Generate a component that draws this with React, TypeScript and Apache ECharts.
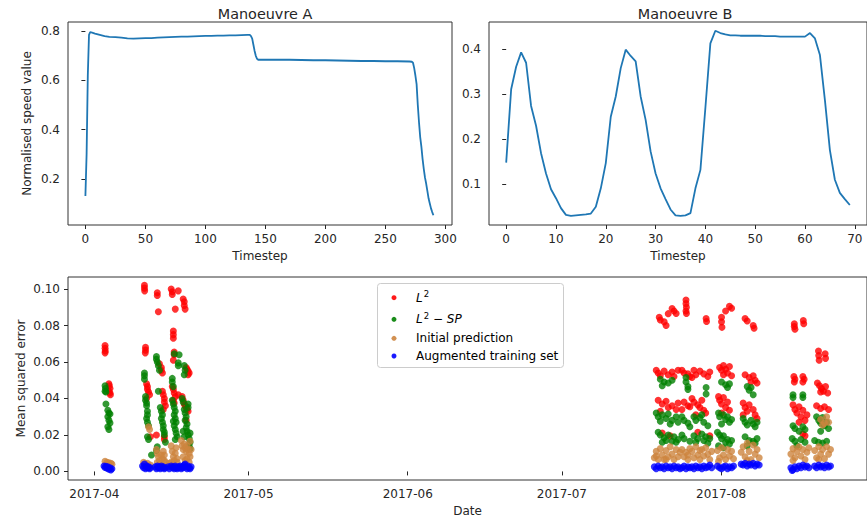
import React, { useEffect, useRef } from "react";
import * as echarts from "echarts";

// ---------- Top-left: Manoeuvre A ----------
const mA_steps = [0, 1, 2, 3, 4, 5, 8, 12, 16, 20, 25, 30, 35, 40, 45, 50, 55, 60, 65, 70, 75, 80, 85, 90, 95, 100, 105, 110, 115, 120, 125, 130, 135, 137, 138, 139, 140, 141, 142, 143, 144, 150, 160, 170, 180, 190, 200, 210, 220, 230, 240, 250, 260, 270, 272, 273, 274, 275, 276, 277, 278, 279, 280, 281, 282, 283, 284, 285, 286, 287, 288, 289, 290];
const mA_values = [0.13, 0.3, 0.62, 0.785, 0.797, 0.795, 0.79, 0.785, 0.78, 0.777, 0.776, 0.774, 0.771, 0.77, 0.771, 0.772, 0.772, 0.774, 0.775, 0.776, 0.777, 0.778, 0.778, 0.779, 0.78, 0.781, 0.781, 0.782, 0.782, 0.783, 0.783, 0.784, 0.785, 0.785, 0.78, 0.77, 0.745, 0.72, 0.7, 0.688, 0.684, 0.684, 0.684, 0.684, 0.683, 0.682, 0.682, 0.681, 0.68, 0.679, 0.679, 0.678, 0.678, 0.677, 0.676, 0.672, 0.65, 0.62, 0.585, 0.5, 0.43, 0.37, 0.33, 0.28, 0.24, 0.205, 0.18, 0.15, 0.12, 0.1, 0.08, 0.065, 0.052];
const mA_xTicks = [0, 50, 100, 150, 200, 250, 300];
const mA_yTicks = [0.2, 0.4, 0.6, 0.8];

// ---------- Top-right: Manoeuvre B ----------
const mB_values = [0.148, 0.311, 0.361, 0.393, 0.37, 0.274, 0.23, 0.169, 0.124, 0.089, 0.069, 0.047, 0.032, 0.03, 0.031, 0.032, 0.033, 0.035, 0.05, 0.091, 0.147, 0.25, 0.295, 0.358, 0.399, 0.385, 0.373, 0.295, 0.243, 0.173, 0.124, 0.091, 0.067, 0.044, 0.031, 0.03, 0.031, 0.036, 0.091, 0.132, 0.27, 0.413, 0.441, 0.436, 0.433, 0.431, 0.431, 0.43, 0.43, 0.43, 0.43, 0.43, 0.429, 0.429, 0.429, 0.428, 0.428, 0.428, 0.428, 0.428, 0.428, 0.436, 0.424, 0.387, 0.287, 0.176, 0.11, 0.081, 0.067, 0.054];
const mB_xTicks = [0, 10, 20, 30, 40, 50, 60, 70];
const mB_yTicks = [0.1, 0.2, 0.3, 0.4];

// ---------- Bottom: errors by date ("MM-DD HH" in 2017) ----------
const l2Points: [string, number][] = [
  ["04-03 02", 0.069], ["04-03 02", 0.0675], ["04-03 03", 0.066], ["04-03 02", 0.065],
  ["04-03 20", 0.048], ["04-03 22", 0.047], ["04-04 01", 0.0455], ["04-03 20", 0.044], ["04-04 01", 0.043], ["04-04 03", 0.042],
  ["04-10 18", 0.102], ["04-10 18", 0.1005], ["04-10 19", 0.099], ["04-10 23", 0.068], ["04-10 23", 0.0665], ["04-10 22", 0.065], ["04-11 04", 0.048], ["04-11 08", 0.0465], ["04-11 08", 0.045], ["04-11 13", 0.0435], ["04-11 18", 0.042], ["04-11 04", 0.04], ["04-11 22", 0.019],
  ["04-13 06", 0.098], ["04-13 06", 0.0965], ["04-13 11", 0.0875], ["04-13 16", 0.059], ["04-14 01", 0.057], ["04-14 01", 0.0555], ["04-14 06", 0.054], ["04-14 06", 0.044], ["04-14 10", 0.042], ["04-14 15", 0.04], ["04-14 15", 0.038], ["04-14 20", 0.036], ["04-14 10", 0.034], ["04-13 02", 0.02], ["04-14 15", 0.019], ["04-14 15", 0.0175],
  ["04-15 23", 0.1], ["04-16 04", 0.0985], ["04-16 04", 0.097], ["04-17 08", 0.099], ["04-16 18", 0.089], ["04-16 09", 0.077], ["04-16 09", 0.075], ["04-16 09", 0.073], ["04-16 13", 0.0655], ["04-16 13", 0.064], ["04-16 09", 0.061], ["04-16 04", 0.0465], ["04-16 09", 0.045], ["04-16 13", 0.043], ["04-16 18", 0.041], ["04-16 09", 0.039], ["04-17 08", 0.042], ["04-16 13", 0.0375],
  ["04-18 07", 0.0945], ["04-18 12", 0.093], ["04-18 12", 0.091], ["04-18 16", 0.089], ["04-18 21", 0.057], ["04-19 01", 0.056], ["04-19 06", 0.055], ["04-19 11", 0.054], ["04-19 06", 0.053], ["04-18 02", 0.041], ["04-18 07", 0.039], ["04-18 12", 0.037], ["04-18 16", 0.036], ["04-18 21", 0.035], ["04-19 01", 0.034], ["04-19 06", 0.033], ["04-18 21", 0.028],
  ["07-19 23", 0.0845], ["07-20 04", 0.083], ["07-20 22", 0.082], ["07-21 07", 0.08], ["07-21 17", 0.0865], ["07-22 11", 0.0893], ["07-22 20", 0.088], ["07-23 06", 0.0866],
  ["07-19 09", 0.0555], ["07-19 18", 0.054], ["07-20 04", 0.0525], ["07-20 22", 0.055], ["07-21 17", 0.053], ["07-22 11", 0.0545], ["07-22 20", 0.052], ["07-23 15", 0.0555],
  ["07-19 18", 0.039], ["07-20 13", 0.037], ["07-21 07", 0.0385], ["07-21 17", 0.035], ["07-22 11", 0.036], ["07-23 06", 0.034], ["07-23 15", 0.0375], ["07-20 04", 0.033], ["07-20 13", 0.021], ["07-22 02", 0.0195],
  ["07-25 04", 0.094], ["07-25 04", 0.092], ["07-25 06", 0.09], ["07-25 04", 0.088], ["07-25 06", 0.0866],
  ["07-24 09", 0.0555], ["07-24 19", 0.054], ["07-25 13", 0.0535], ["07-25 22", 0.052], ["07-24 19", 0.038], ["07-25 13", 0.036], ["07-24 09", 0.034], ["07-25 22", 0.0355],
  ["07-29 02", 0.0838], ["07-29 04", 0.0822],
  ["07-26 17", 0.0555], ["07-27 02", 0.053], ["07-27 21", 0.055], ["07-28 15", 0.0535], ["07-29 10", 0.052], ["07-29 19", 0.0545], ["07-26 08", 0.0515],
  ["07-26 08", 0.04], ["07-26 17", 0.038], ["07-27 11", 0.0365], ["07-27 21", 0.035], ["07-28 06", 0.039], ["07-28 15", 0.0335], ["07-29 00", 0.032], ["07-27 02", 0.031], ["07-29 19", 0.0195], ["07-27 11", 0.0215],
  ["08-01 02", 0.0845], ["08-01 02", 0.082], ["08-01 04", 0.079], ["08-01 21", 0.088], ["08-02 15", 0.0905], ["08-03 01", 0.0895],
  ["07-31 17", 0.057], ["08-01 02", 0.0555], ["08-01 11", 0.058], ["08-01 21", 0.056], ["08-02 06", 0.054], ["08-02 15", 0.0575], ["08-03 01", 0.0525], ["08-01 11", 0.053],
  ["07-31 12", 0.041], ["07-31 17", 0.039], ["08-01 02", 0.037], ["08-01 11", 0.0405], ["08-01 21", 0.035], ["08-02 06", 0.038], ["08-02 15", 0.0335], ["08-01 02", 0.032],
  ["08-05 16", 0.0838], ["08-06 02", 0.0825], ["08-07 06", 0.08], ["08-07 10", 0.0785],
  ["08-05 16", 0.053], ["08-06 11", 0.0515], ["08-07 06", 0.0525], ["08-07 15", 0.05], ["08-08 00", 0.0485], ["08-06 20", 0.049],
  ["08-05 07", 0.0375], ["08-05 16", 0.035], ["08-06 02", 0.033], ["08-06 11", 0.0365], ["08-07 06", 0.034], ["08-07 15", 0.031], ["08-08 00", 0.029], ["08-05 07", 0.031],
  ["08-15 06", 0.081], ["08-15 06", 0.0795], ["08-15 09", 0.078], ["08-17 00", 0.0827], ["08-17 02", 0.081],
  ["08-15 04", 0.052], ["08-15 09", 0.0505], ["08-16 22", 0.052], ["08-17 04", 0.0505], ["08-15 06", 0.049], ["08-16 22", 0.049],
  ["08-15 00", 0.0365], ["08-15 09", 0.034], ["08-15 18", 0.032], ["08-16 04", 0.0355], ["08-16 13", 0.03], ["08-16 22", 0.0335], ["08-17 08", 0.028], ["08-17 17", 0.031], ["08-16 04", 0.027], ["08-16 22", 0.0205], ["08-17 08", 0.0195],
  ["08-19 23", 0.066], ["08-20 00", 0.0635], ["08-20 02", 0.061], ["08-21 06", 0.0645], ["08-21 08", 0.062],
  ["08-19 18", 0.0485], ["08-20 04", 0.047], ["08-20 13", 0.0455], ["08-20 22", 0.044], ["08-21 08", 0.0465], ["08-21 18", 0.043], ["08-20 09", 0.0435],
  ["08-19 14", 0.036], ["08-20 09", 0.0345], ["08-21 03", 0.0355], ["08-21 22", 0.034],
];

const l2spPoints: [string, number][] = [
  ["04-03 02", 0.047], ["04-03 04", 0.0455], ["04-03 02", 0.044], ["04-03 06", 0.0435], ["04-03 06", 0.037], ["04-03 15", 0.0335], ["04-03 20", 0.032], ["04-03 15", 0.03], ["04-03 20", 0.028], ["04-04 01", 0.0265], ["04-03 15", 0.0245], ["04-03 20", 0.023], ["04-04 01", 0.0315],
  ["04-10 18", 0.054], ["04-10 18", 0.0525], ["04-10 18", 0.0505], ["04-10 23", 0.041], ["04-10 23", 0.039], ["04-11 04", 0.0375], ["04-11 04", 0.036], ["04-11 08", 0.033], ["04-11 08", 0.031], ["04-11 04", 0.029], ["04-11 08", 0.027], ["04-11 13", 0.025], ["04-11 08", 0.019], ["04-11 13", 0.0175], ["04-12 03", 0.009],
  ["04-13 02", 0.063], ["04-13 02", 0.0615], ["04-13 06", 0.06], ["04-13 11", 0.058], ["04-13 16", 0.0555], ["04-13 11", 0.044], ["04-13 20", 0.035], ["04-14 01", 0.033], ["04-14 06", 0.031], ["04-14 01", 0.029], ["04-14 06", 0.027], ["04-14 10", 0.025], ["04-14 10", 0.023], ["04-14 15", 0.0215], ["04-14 15", 0.02], ["04-14 20", 0.016], ["04-13 06", 0.0135], ["04-13 02", 0.0115],
  ["04-17 08", 0.0595], ["04-17 08", 0.058], ["04-16 13", 0.0645], ["04-16 04", 0.051], ["04-16 04", 0.049], ["04-16 09", 0.0465], ["04-16 04", 0.039], ["04-16 09", 0.037], ["04-16 13", 0.035], ["04-16 18", 0.033], ["04-16 13", 0.031], ["04-16 18", 0.029], ["04-16 22", 0.027], ["04-16 13", 0.025], ["04-16 18", 0.023], ["04-16 22", 0.021], ["04-17 03", 0.019], ["04-16 18", 0.0175], ["04-16 09", 0.0275],
  ["04-17 12", 0.064], ["04-18 12", 0.058], ["04-18 16", 0.0555], ["04-18 12", 0.053], ["04-18 02", 0.04], ["04-18 07", 0.038], ["04-19 06", 0.037], ["04-19 06", 0.035], ["04-18 12", 0.034], ["04-18 16", 0.032], ["04-18 21", 0.03], ["04-18 16", 0.028], ["04-19 01", 0.026], ["04-18 21", 0.024], ["04-19 01", 0.022], ["04-19 06", 0.02], ["04-19 11", 0.018], ["04-19 15", 0.016], ["04-19 11", 0.014], ["04-19 15", 0.0125], ["04-18 07", 0.022], ["04-18 12", 0.019], ["04-19 15", 0.021],
  ["07-20 04", 0.0505], ["07-20 22", 0.049], ["07-21 17", 0.0485], ["07-22 11", 0.05], ["07-20 13", 0.047],
  ["07-19 09", 0.032], ["07-19 18", 0.03], ["07-20 13", 0.031], ["07-21 07", 0.029], ["07-21 17", 0.0315], ["07-22 11", 0.028], ["07-23 06", 0.03], ["07-23 15", 0.027], ["07-20 04", 0.0275], ["07-22 02", 0.026],
  ["07-19 18", 0.0215], ["07-20 04", 0.02], ["07-20 22", 0.0185], ["07-21 07", 0.017], ["07-21 17", 0.02], ["07-22 11", 0.0165], ["07-22 20", 0.019], ["07-23 06", 0.016], ["07-20 13", 0.016], ["07-23 15", 0.0175],
  ["07-25 04", 0.0515], ["07-25 04", 0.049], ["07-25 13", 0.0465], ["07-25 13", 0.045], ["07-24 09", 0.03], ["07-24 19", 0.028], ["07-25 13", 0.0265], ["07-25 22", 0.0245], ["07-24 09", 0.02], ["07-24 19", 0.018], ["07-25 22", 0.0165],
  ["07-29 02", 0.0425], ["07-29 02", 0.046], ["07-26 17", 0.03], ["07-27 02", 0.028], ["07-27 21", 0.0295], ["07-28 15", 0.027], ["07-29 10", 0.025], ["07-28 06", 0.031], ["07-26 17", 0.0195], ["07-27 11", 0.018], ["07-28 06", 0.0205], ["07-28 15", 0.017], ["07-29 00", 0.019], ["07-29 10", 0.0155], ["07-29 19", 0.018], ["07-27 02", 0.016],
  ["08-01 02", 0.049], ["08-01 21", 0.0475], ["08-02 15", 0.048], ["08-02 06", 0.046],
  ["07-31 12", 0.032], ["07-31 17", 0.03], ["08-01 11", 0.031], ["08-01 21", 0.0285], ["08-02 06", 0.03], ["08-02 15", 0.027], ["08-03 01", 0.0285], ["08-01 02", 0.026],
  ["07-31 07", 0.0215], ["07-31 17", 0.02], ["08-01 02", 0.018], ["08-01 11", 0.0195], ["08-01 21", 0.016], ["08-02 06", 0.0175], ["08-02 15", 0.015], ["08-03 01", 0.017], ["07-31 12", 0.014], ["08-01 11", 0.013],
  ["08-06 02", 0.0465], ["08-06 11", 0.0445], ["08-06 20", 0.046], ["08-07 06", 0.042],
  ["08-05 07", 0.029], ["08-05 16", 0.027], ["08-06 02", 0.0255], ["08-06 20", 0.028], ["08-07 06", 0.026], ["08-07 15", 0.0245], ["08-08 00", 0.027],
  ["08-05 16", 0.019], ["08-06 11", 0.017], ["08-07 06", 0.0165], ["08-07 15", 0.0155], ["08-08 00", 0.018], ["08-06 02", 0.014],
  ["08-15 00", 0.042], ["08-15 00", 0.0405], ["08-16 22", 0.042], ["08-16 22", 0.0405],
  ["08-15 00", 0.025], ["08-15 09", 0.0235], ["08-16 04", 0.022], ["08-16 22", 0.0245], ["08-17 08", 0.023],
  ["08-14 20", 0.018], ["08-15 09", 0.0165], ["08-16 13", 0.0175], ["08-17 08", 0.016], ["08-15 18", 0.014],
  ["08-19 14", 0.03], ["08-20 00", 0.028], ["08-20 09", 0.0265], ["08-20 18", 0.0295], ["08-21 03", 0.025], ["08-21 13", 0.027], ["08-21 22", 0.0235], ["08-20 09", 0.022],
  ["08-19 05", 0.017], ["08-19 23", 0.016], ["08-20 18", 0.0155], ["08-21 13", 0.0165],
];

const initialPoints: [string, number][] = [
  ["04-03 02", 0.0055], ["04-03 11", 0.005], ["04-03 20", 0.0048], ["04-04 05", 0.0045], ["04-04 10", 0.004], ["04-03 15", 0.004],
  ["04-10 14", 0.005], ["04-10 23", 0.004], ["04-11 08", 0.0045], ["04-11 13", 0.0245], ["04-11 18", 0.023], ["04-11 22", 0.0035],
  ["04-13 02", 0.012], ["04-13 06", 0.01], ["04-13 11", 0.008], ["04-13 16", 0.006], ["04-14 01", 0.009], ["04-14 06", 0.007], ["04-14 10", 0.011], ["04-14 15", 0.006], ["04-14 20", 0.005], ["04-13 06", 0.005], ["04-13 20", 0.004], ["04-14 15", 0.009],
  ["04-15 23", 0.014], ["04-16 04", 0.011], ["04-16 09", 0.008], ["04-16 13", 0.006], ["04-16 18", 0.01], ["04-16 22", 0.013], ["04-17 03", 0.007], ["04-17 03", 0.005], ["04-15 23", 0.005], ["04-15 14", 0.0045],
  ["04-17 22", 0.017], ["04-18 02", 0.014], ["04-18 07", 0.012], ["04-18 12", 0.015], ["04-18 16", 0.013], ["04-18 21", 0.011], ["04-19 01", 0.014], ["04-19 06", 0.012], ["04-19 11", 0.01], ["04-18 07", 0.008], ["04-18 16", 0.006], ["04-19 01", 0.007], ["04-19 11", 0.005], ["04-19 15", 0.0165], ["04-19 20", 0.012], ["04-19 15", 0.008],
  ["07-19 00", 0.0075], ["07-19 09", 0.011], ["07-19 18", 0.0065], ["07-20 04", 0.0125], ["07-20 13", 0.009], ["07-20 22", 0.0065], ["07-21 07", 0.0115], ["07-21 17", 0.008], ["07-22 02", 0.0135], ["07-22 11", 0.0095], ["07-22 20", 0.0065], ["07-23 06", 0.012], ["07-23 15", 0.008], ["07-24 00", 0.0105], ["07-19 09", 0.0085], ["07-21 07", 0.0065],
  ["07-24 09", 0.012], ["07-24 19", 0.008], ["07-25 04", 0.0105], ["07-25 13", 0.0065], ["07-25 22", 0.0125], ["07-25 13", 0.009],
  ["07-26 08", 0.011], ["07-26 17", 0.0075], ["07-27 02", 0.0135], ["07-27 11", 0.009], ["07-27 21", 0.0065], ["07-28 06", 0.012], ["07-28 15", 0.0085], ["07-29 00", 0.013], ["07-29 10", 0.0095], ["07-29 19", 0.0065], ["07-30 04", 0.011], ["07-27 21", 0.0115],
  ["07-31 07", 0.0115], ["07-31 17", 0.0075], ["08-01 02", 0.013], ["08-01 11", 0.009], ["08-01 21", 0.0065], ["08-02 06", 0.012], ["08-02 15", 0.0085], ["08-03 01", 0.011], ["08-03 10", 0.007], ["07-31 12", 0.0055],
  ["08-04 22", 0.0105], ["08-05 07", 0.0135], ["08-05 16", 0.008], ["08-06 02", 0.0155], ["08-06 11", 0.011], ["08-06 20", 0.0065], ["08-07 06", 0.0145], ["08-07 15", 0.0095], ["08-08 00", 0.012], ["08-08 10", 0.0075], ["08-06 02", 0.006],
  ["08-14 14", 0.0095], ["08-15 00", 0.0125], ["08-15 09", 0.0075], ["08-15 18", 0.011], ["08-16 04", 0.0135], ["08-16 13", 0.0085], ["08-16 22", 0.012], ["08-17 08", 0.0065], ["08-17 17", 0.0105], ["08-18 02", 0.013], ["08-15 00", 0.006],
  ["08-19 05", 0.0115], ["08-19 14", 0.0075], ["08-20 00", 0.0135], ["08-20 09", 0.0095], ["08-20 18", 0.012], ["08-21 03", 0.007], ["08-21 13", 0.0135], ["08-21 22", 0.0095], ["08-22 07", 0.012], ["08-20 09", 0.0285], ["08-21 03", 0.0265], ["08-21 13", 0.03], ["08-20 18", 0.0255], ["08-21 22", 0.027], ["08-20 00", 0.0065],
];

const augmentedPoints: [string, number][] = [
  ["04-02 21", 0.003], ["04-03 02", 0.0022], ["04-03 06", 0.0028], ["04-03 11", 0.0018], ["04-03 15", 0.0025], ["04-03 20", 0.0012], ["04-04 01", 0.002], ["04-04 05", 0.0008], ["04-04 10", 0.0015],
  ["04-10 09", 0.003], ["04-10 14", 0.002], ["04-10 18", 0.004], ["04-10 23", 0.0015], ["04-11 04", 0.003], ["04-11 08", 0.002], ["04-11 13", 0.0025], ["04-11 18", 0.0015], ["04-11 22", 0.002],
  ["04-12 21", 0.0025], ["04-13 02", 0.0015], ["04-13 06", 0.003], ["04-13 11", 0.002], ["04-13 16", 0.0025], ["04-13 20", 0.0015], ["04-14 01", 0.003], ["04-14 06", 0.002], ["04-14 10", 0.0025], ["04-14 15", 0.0015], ["04-14 20", 0.002],
  ["04-15 09", 0.0025], ["04-15 14", 0.0015], ["04-15 23", 0.003], ["04-16 04", 0.002], ["04-16 09", 0.0025], ["04-16 13", 0.0015], ["04-16 18", 0.003], ["04-16 22", 0.002], ["04-17 03", 0.0015], ["04-17 08", 0.0025],
  ["04-17 12", 0.002], ["04-17 17", 0.003], ["04-17 22", 0.0015], ["04-18 02", 0.0025], ["04-18 07", 0.002], ["04-18 12", 0.0035], ["04-18 16", 0.004], ["04-18 21", 0.0025], ["04-19 01", 0.0015], ["04-19 06", 0.003], ["04-19 11", 0.002], ["04-19 15", 0.0015], ["04-19 20", 0.0025],
  ["07-19 00", 0.0025], ["07-19 09", 0.0015], ["07-19 18", 0.003], ["07-20 04", 0.002], ["07-20 13", 0.0025], ["07-20 22", 0.0015], ["07-21 07", 0.003], ["07-21 17", 0.002], ["07-22 02", 0.0025], ["07-22 11", 0.0015], ["07-22 20", 0.003], ["07-23 06", 0.002], ["07-23 15", 0.0025], ["07-24 00", 0.0015],
  ["07-24 09", 0.002], ["07-24 19", 0.003], ["07-25 04", 0.0015], ["07-25 13", 0.0025], ["07-25 22", 0.002],
  ["07-26 08", 0.0025], ["07-26 17", 0.0015], ["07-27 02", 0.003], ["07-27 11", 0.002], ["07-27 21", 0.0025], ["07-28 06", 0.0015], ["07-28 15", 0.003], ["07-29 00", 0.002], ["07-29 10", 0.0025], ["07-29 19", 0.0035], ["07-30 04", 0.002],
  ["07-31 07", 0.003], ["07-31 17", 0.002], ["08-01 02", 0.0015], ["08-01 11", 0.0025], ["08-01 21", 0.003], ["08-02 06", 0.0015], ["08-02 15", 0.0025], ["08-03 01", 0.002], ["08-03 10", 0.003],
  ["08-04 22", 0.004], ["08-05 07", 0.0035], ["08-05 16", 0.0045], ["08-06 02", 0.003], ["08-06 11", 0.004], ["08-06 20", 0.0035], ["08-07 06", 0.0045], ["08-07 15", 0.003], ["08-08 00", 0.004], ["08-08 10", 0.0035],
  ["08-14 14", 0.002], ["08-15 00", 0.001], ["08-15 09", 0.0025], ["08-15 18", 0.0015], ["08-16 04", 0.003], ["08-16 13", 0.002], ["08-16 22", 0.0035], ["08-17 08", 0.0025], ["08-17 17", 0.003], ["08-18 02", 0.002], ["08-14 20", 0.0005],
  ["08-19 05", 0.003], ["08-19 14", 0.002], ["08-20 00", 0.0035], ["08-20 09", 0.0025], ["08-20 18", 0.003], ["08-21 03", 0.002], ["08-21 13", 0.0035], ["08-21 22", 0.0025], ["08-22 07", 0.003],
];

const dateTickMonths = ["2017-04", "2017-05", "2017-06", "2017-07", "2017-08"];
const errYTicks = [0, 0.02, 0.04, 0.06, 0.08, 0.1];

const seriesNames = ["L²", "L² − SP", "Initial prediction", "Augmented training set"];
const legendLabels = ["{it|L}{sup|2}", "{it|L}{sup|2}{n| − }{it|SP}", "Initial prediction", "Augmented training set"];
const seriesColors = ["#ff0000", "#008000", "#cd853f", "#0000ff"];

const DAY = 86400000;
const APR1 = Date.UTC(2017, 3, 1);
const toTime = (s: string) =>
  Date.UTC(2017, +s.slice(0, 2) - 1, +s.slice(3, 5), +s.slice(6, 8));
const monthTime = (m: string) => Date.UTC(+m.slice(0, 4), +m.slice(5, 7) - 1, 1);

const FONT = "DejaVu Sans";
const TXT = "#262626";

export default function App() {
  const ref = useRef<HTMLDivElement>(null);

  useEffect(() => {
    document.body.style.margin = "0";
    if (!ref.current) return;
    const chart = echarts.init(ref.current, undefined, { renderer: "svg" });

    const tickStyle = { show: true, length: 4, lineStyle: { color: TXT, width: 1 } };
    const lbl = { color: TXT, fontSize: 12, fontFamily: FONT };
    const nameStyle = { color: TXT, fontSize: 12, fontFamily: FONT };
    const titleStyle = { fontSize: 14.4, fontWeight: "normal", color: TXT, fontFamily: FONT };
    const monthTicks = dateTickMonths.map(monthTime);
    const frame = { show: true, borderColor: "#333", borderWidth: 1, backgroundColor: "transparent" };

    const scatterSets = [l2Points, l2spPoints, initialPoints, augmentedPoints];

    // legend box (matplotlib style), placed in the upper middle of the bottom panel
    const legendBox = { x: 377, y: 283, w: 186, h: 84 };
    const legendRowY = [297.7, 319.3, 338.3, 356];
    const rich = {
      it: { fontStyle: "italic", fontSize: 12, fontFamily: FONT, fill: "#000" },
      sup: { fontSize: 8.5, fontFamily: FONT, fill: "#000", padding: [0, 0, 7, 1] },
      n: { fontSize: 12, fontFamily: FONT, fill: "#000" },
    };
    const legendGraphic = {
      type: "group", z: 100,
      children: [
        {
          type: "rect",
          shape: { x: legendBox.x + 0.5, y: legendBox.y + 0.5, width: legendBox.w, height: legendBox.h, r: 3 },
          style: { fill: "rgba(255,255,255,0.8)", stroke: "#cccccc", lineWidth: 1 },
        },
        ...seriesNames.flatMap((_, i) => [
          {
            type: "circle",
            shape: { cx: legendBox.x + 17, cy: legendRowY[i], r: 2.5 },
            style: { fill: seriesColors[i], opacity: 0.9 },
          },
          {
            type: "text",
            x: legendBox.x + 39, y: legendRowY[i],
            style: {
              text: legendLabels[i], fontSize: 12, fontFamily: FONT, fill: "#000",
              verticalAlign: "middle", align: "left", rich,
            },
          },
        ]),
      ],
    };

    const option: any = {
      animation: false,
      textStyle: { fontFamily: FONT },
      title: [
        { text: "Manoeuvre A", left: 260, top: 2, textAlign: "center", textStyle: titleStyle },
        { text: "Manoeuvre B", left: 680, top: 2, textAlign: "center", textStyle: titleStyle },
      ],
      grid: [
        { left: 68, top: 22, width: 384, height: 203, ...frame },
        { left: 489, top: 22, width: 381, height: 203, ...frame },
        { left: 68, top: 277, right: -8, height: 203, ...frame },
      ],
      xAxis: [
        {
          gridIndex: 0, type: "value", min: -14.5, max: 305.5,
          axisLine: { show: false }, splitLine: { show: false },
          axisTick: { ...tickStyle, customValues: mA_xTicks },
          axisLabel: { ...lbl, margin: 8, customValues: mA_xTicks },
          name: "Timestep", nameLocation: "middle", nameGap: 25, nameMoveOverlap: false, nameTextStyle: nameStyle,
        },
        {
          gridIndex: 1, type: "value", min: -3.45, max: 72.45,
          axisLine: { show: false }, splitLine: { show: false },
          axisTick: { ...tickStyle, customValues: mB_xTicks },
          axisLabel: { ...lbl, margin: 8, customValues: mB_xTicks },
          name: "Timestep", nameLocation: "middle", nameGap: 25, nameMoveOverlap: false, nameTextStyle: nameStyle,
        },
        {
          gridIndex: 2, type: "value", min: APR1 - 5.13 * DAY, max: APR1 + 150.4 * DAY,
          axisLine: { show: false }, splitLine: { show: false },
          axisTick: { ...tickStyle, customValues: monthTicks },
          axisLabel: {
            ...lbl, margin: 8, customValues: monthTicks,
            formatter: (v: number) => {
              const d = new Date(v);
              return d.getUTCFullYear() + "-" + String(d.getUTCMonth() + 1).padStart(2, "0");
            },
          },
          name: "Date", nameLocation: "middle", nameGap: 25, nameMoveOverlap: false, nameTextStyle: nameStyle,
        },
      ],
      yAxis: [
        {
          gridIndex: 0, type: "value", min: 0.0125, max: 0.8375,
          axisLine: { show: false }, splitLine: { show: false },
          axisTick: { ...tickStyle, customValues: mA_yTicks },
          axisLabel: { ...lbl, margin: 8, customValues: mA_yTicks, formatter: (v: number) => v.toFixed(1) },
          name: "Normalised speed value", nameLocation: "middle", nameGap: 35, nameRotate: 90, nameMoveOverlap: false, nameTextStyle: nameStyle,
        },
        {
          gridIndex: 1, type: "value", min: 0.0095, max: 0.4605,
          axisLine: { show: false }, splitLine: { show: false },
          axisTick: { ...tickStyle, customValues: mB_yTicks },
          axisLabel: { ...lbl, margin: 8, customValues: mB_yTicks, formatter: (v: number) => v.toFixed(1) },
        },
        {
          gridIndex: 2, type: "value", min: -0.0047, max: 0.1066,
          axisLine: { show: false }, splitLine: { show: false },
          axisTick: { ...tickStyle, customValues: errYTicks },
          axisLabel: { ...lbl, margin: 8, customValues: errYTicks, formatter: (v: number) => v.toFixed(2) },
          name: "Mean squared error", nameLocation: "middle", nameGap: 41, nameRotate: 90, nameMoveOverlap: false, nameTextStyle: nameStyle,
        },
      ],
      graphic: [legendGraphic],
      series: [
        {
          type: "line", xAxisIndex: 0, yAxisIndex: 0, showSymbol: false, silent: true,
          lineStyle: { color: "#1f77b4", width: 1.8 }, itemStyle: { color: "#1f77b4" },
          data: mA_steps.map((t, i) => [t, mA_values[i]]),
        },
        {
          type: "line", xAxisIndex: 1, yAxisIndex: 1, showSymbol: false, silent: true,
          lineStyle: { color: "#1f77b4", width: 1.8 }, itemStyle: { color: "#1f77b4" },
          data: mB_values.map((v, i) => [i, v]),
        },
        ...scatterSets.map((pts, k) => ({
          type: "scatter", name: seriesNames[k], xAxisIndex: 2, yAxisIndex: 2,
          symbol: "circle", symbolSize: 7,
          itemStyle: { color: seriesColors[k], opacity: 0.8 },
          data: pts.map(([d, v]) => [toTime(d), v]),
        })),
      ],
    };

    chart.setOption(option);
    return () => chart.dispose();
  }, []);

  return <div ref={ref} style={{ width: 867, height: 523 }} />;
}
